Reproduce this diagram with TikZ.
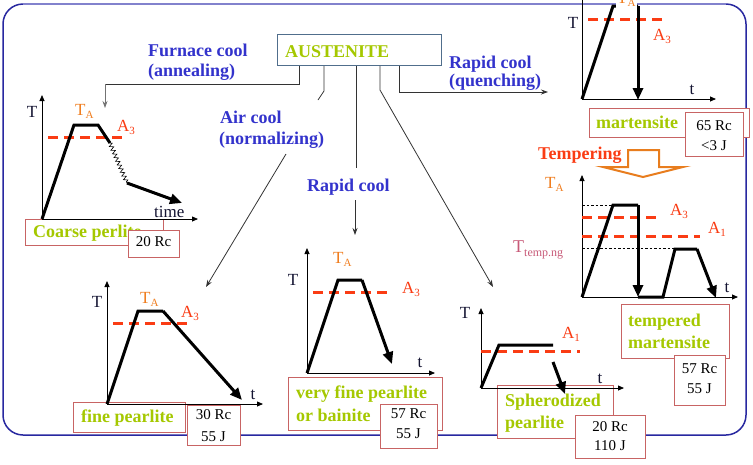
\documentclass[tikz,border=0pt]{standalone}
\usepackage{fontspec}
\setmainfont{Liberation Serif}
\usetikzlibrary{arrows.meta,decorations.pathmorphing,calc}
\definecolor{bluec}{RGB}{51,51,204}
\definecolor{greenc}{RGB}{165,200,0}
\definecolor{redc}{RGB}{250,60,20}
\definecolor{orangec}{RGB}{240,125,30}
\definecolor{rosec}{RGB}{200,100,100}
\definecolor{slatec}{RGB}{80,110,140}
\definecolor{framec}{RGB}{40,40,160}
\definecolor{frametop}{RGB}{130,130,205}
\definecolor{mauvec}{RGB}{200,90,120}
\definecolor{axc}{RGB}{20,20,50}
\definecolor{arrowor}{RGB}{232,125,30}
\newcommand\lsub[1]{\raisebox{-3.5pt}{\fontsize{11}{11}\selectfont #1}}
\newcommand\tsub[1]{\raisebox{-4pt}{\fontsize{12}{12}\selectfont #1}}
\begin{document}
\begin{tikzpicture}[x=1pt,y=-1pt,
 bt/.style={inner sep=0, anchor=base west, text=bluec, font=\fontsize{18}{21}\selectfont\bfseries},
 gt/.style={inner sep=0, anchor=base west, text=greenc, font=\fontsize{18}{21}\selectfont\bfseries},
 rt/.style={inner sep=0, anchor=base west, text=redc, font=\fontsize{18}{21}\selectfont\bfseries},
 nt/.style={inner sep=0, anchor=base, font=\fontsize{15}{18}\selectfont},
 axl/.style={inner sep=0, text=axc, font=\fontsize{17}{20}\selectfont},
 tal/.style={inner sep=0, anchor=base west, text=orangec, font=\fontsize{17}{20}\selectfont},
 al/.style={inner sep=0, anchor=base west, text=redc, font=\fontsize{17}{20}\selectfont},
 rbox/.style={draw=rosec, line width=1pt, fill=white, inner sep=0, anchor=north west},
 curve/.style={line width=3pt, line join=miter},
 curvearr/.style={curve, -{Triangle[length=12pt,width=10pt]}},
 redd/.style={draw=redc, line width=3pt, dash pattern=on 10pt off 6pt},
 axis/.style={line width=0.8pt, -{Triangle[length=6pt,width=5pt]}},
 conn/.style={line width=0.8pt, draw=black!80},
 connarr/.style={conn, -{Stealth[length=7pt,width=5pt]}},
 guide/.style={line width=0.6pt, dash pattern=on 2.5pt off 2pt},
]
\useasboundingbox (0,0) rectangle (753,464);
\fill[white] (0,0) rectangle (753,464);

% frame
\draw[framec, line width=1.5pt, rounded corners=20pt] (3,4) rectangle (746,435);
\draw[frametop, line width=1.5pt] (23,4) -- (726,4);

% AUSTENITE
\node[draw=slatec, line width=1pt, inner sep=0, anchor=north west, minimum width=164, minimum height=31] (aus) at (277,34) {};
\node[gt] (austxt) at (285,57) {AUSTENITE};

% connectors
\coordinate (fa) at ($(aus.south west)+(22,0)$);
\coordinate (aa) at ($(aus.south west)+(47,0)$);
\coordinate (ra) at ($(aus.south west)+(79,0)$);
\coordinate (sa) at ($(aus.south west)+(103,0)$);
\coordinate (qa) at ($(aus.south west)+(122,0)$);
\coordinate (fb) at (105,84);
\coordinate (ab) at (286,154);
\coordinate (rb) at (355,200);
\draw[conn] (fa) -- (299,84) -- (fb);
\draw[connarr, draw=black!55] (fb) -- (105,108);
\draw[conn] (aa) -- ++(0,25) -- ++(-6,9);
\draw[connarr] (ab) -- (206,287);
\draw[conn] (ra) -- (356,168);
\draw[connarr] (rb) -- (355,235);
\draw[connarr] (sa) -- (380,90) -- (493,287);
\draw[connarr] (qa) -- (399,92) -- (548,92);

% cooling labels
\node[bt] at (148,56) {Furnace cool};
\node[bt] at (148,76) {(annealing)};
\node[bt] at (220,123) {Air cool};
\node[bt] at (219,144) {(normalizing)};
\node[bt] at (307,191) {Rapid cool};
\node[bt] at (449,68) {Rapid cool};
\node[bt] at (449,86) {(quenching)};
\node[rt] at (538,159) {Tempering};

% tempering block arrow
\draw[arrowor, line width=2pt, fill=white, line join=miter]
  (628,150) -- (659,150) -- (659,167) -- (683,167) -- (643,177) -- (603,167) -- (628,167) -- cycle;

% ---------- boxes ----------
% coarse perlite
\node[rbox, minimum width=138, minimum height=26] (cbox) at (25,219) {};
\node[gt] at (33,237) {Coarse perlite};
\node[rbox, minimum width=51, minimum height=27] (cbox2) at (128,230) {};
\node[nt] at (153.5,246) {20 Rc};
% fine pearlite
\node[rbox, minimum width=112, minimum height=30] (fbox) at (73,402) {};
\node[gt] at (81,422) {fine pearlite};
\node[rbox, minimum width=53, minimum height=40] (fbox2) at (187,405) {};
\node[nt] at (213.5,419) {30 Rc};
\node[nt] at (213.5,441) {55 J};
% very fine pearlite
\node[rbox, minimum width=154, minimum height=53] (vbox) at (288,377) {};
\node[gt] at (296,398) {very fine pearlite};
\node[gt] at (296,421) {or bainite};
\node[rbox, minimum width=57, minimum height=44] (vbox2) at (380,404) {};
\node[nt] at (408.5,418) {57 Rc};
\node[nt] at (408.5,438) {55 J};
% spherodized
\node[rbox, minimum width=116, minimum height=53] (sbox) at (497,385) {};
\node[gt] at (505,406) {Spherodized};
\node[gt] at (505,428) {pearlite};
\node[rbox, minimum width=70, minimum height=43] (sbox2) at (575,415) {};
\node[nt] at (610,431) {20 Rc};
\node[nt] at (610,450) {110 J};
% martensite
\node[rbox, minimum width=160, minimum height=29] (mbox) at (589,108) {};
\node[gt] at (596,128) {martensite};
\node[rbox, minimum width=58, minimum height=44] (mbox2) at (685,112) {};
\node[nt] at (714,130) {65 Rc};
\node[nt] at (714,150) {<3 J};
% tempered martensite
\node[rbox, minimum width=108, minimum height=54] (tbox) at (621,304) {};
\node[gt] at (628,326) {tempered};
\node[gt] at (628,348) {martensite};
\node[rbox, minimum width=51, minimum height=50] (tbox2) at (674,355) {};
\node[nt] at (699.5,373) {57 Rc};
\node[nt] at (699.5,393) {55 J};

% ---------- plot: coarse perlite ----------
\draw[axis] (42,219) -- (42,95);
\draw[axis] (42,219) -- (198,219);
\draw[redd] (48,137) -- (128,137);
\draw[curve] (42,219) -- (74,125) -- (98,125) -- (110,143);
\draw[line width=0.6pt, decorate, decoration={zigzag, segment length=4pt, amplitude=2pt}] (110,143) -- (127,183);
\draw[curvearr] (127,183) -- (182,203);
\node[axl] at (32,112) {T};
\node[tal] at (75,115) {T\lsub{A}};
\node[al] at (117,131) {A\lsub{3}};
\node[axl, anchor=base west] at (154,217) {time};

% ---------- plot: fine pearlite ----------
\draw[axis] (107,404) -- (107,281);
\draw[axis] (107,404) -- (263,404);
\draw[redd] (113,323) -- (191,323);
\draw[curve] (107,404) -- (138,311) -- (163,311);
\draw[curvearr] (163,311) -- (242,400);
\node[axl] at (97,302) {T};
\node[tal] at (140,303) {T\lsub{A}};
\node[al] at (181,317) {A\lsub{3}};
\node[axl] at (253,395) {t};

% ---------- plot: very fine pearlite ----------
\draw[axis] (307,373) -- (307,248);
\draw[axis] (307,373) -- (435,373);
\draw[redd] (313,292) -- (392,292);
\draw[curve] (307,373) -- (338,280) -- (362,280);
\draw[curvearr] (362,280) -- (392,364);
\node[axl] at (293,280) {T};
\node[tal] at (333,263) {T\lsub{A}};
\node[al] at (402,293) {A\lsub{3}};
\node[axl] at (420,363) {t};

% ---------- plot: spherodized ----------
\draw[axis] (481,388) -- (481,308);
\draw[axis] (481,388) -- (624,388);
\draw[redd] (481,351) -- (580,351);
\draw[curve] (481,388) -- (499,345) -- (553,345);
\draw[curvearr] (553,362) -- (565,394);
\node[axl] at (465,313) {T};
\node[al] at (562,338) {A\lsub{1}};
\node[axl] at (600,379) {t};

% ---------- plot: martensite ----------
\draw[axis] (582,99) -- (582,-8);
\draw[axis] (582,99) -- (716,99);
\draw[redd] (588,19) -- (667,19);
\draw[curve] (582,99) -- (613,6) -- (638,6);
\draw[curvearr] (638,6) -- (638,100);
\node[axl] at (573,23) {T};
\node[tal, fill=white, inner sep=1pt] at (616,3) {T\lsub{A}};
\node[al] at (653,40) {A\lsub{3}};
\node[axl] at (692,90) {t};

% ---------- plot: tempered martensite ----------
\draw[axis] (582,297) -- (582,175);
\draw[axis] (582,297) -- (738,297);
\draw[guide] (582,205) -- (613,205);
\draw[guide] (582,248) -- (675,248);
\draw[redd] (582,217) -- (660,217);
\draw[redd] (582,236) -- (700,236);
\draw[curve] (582,297) -- (613,205) -- (638,205);
\draw[curvearr] (638,205) -- (638,297);
\draw[curve] (638,297) -- (663,297) -- (675,249) -- (697,249);
\draw[curvearr] (697,249) -- (716,298);
\node[tal] at (545,188) {T\lsub{A}};
\node[inner sep=0, anchor=base west, text=mauvec, font=\fontsize{18}{20}\selectfont] at (513,252) {T\tsub{temp.ng}};
\node[al] at (670,215) {A\lsub{3}};
\node[al] at (708,233) {A\lsub{1}};
\node[axl] at (727,288) {t};
\end{tikzpicture}
\end{document}
